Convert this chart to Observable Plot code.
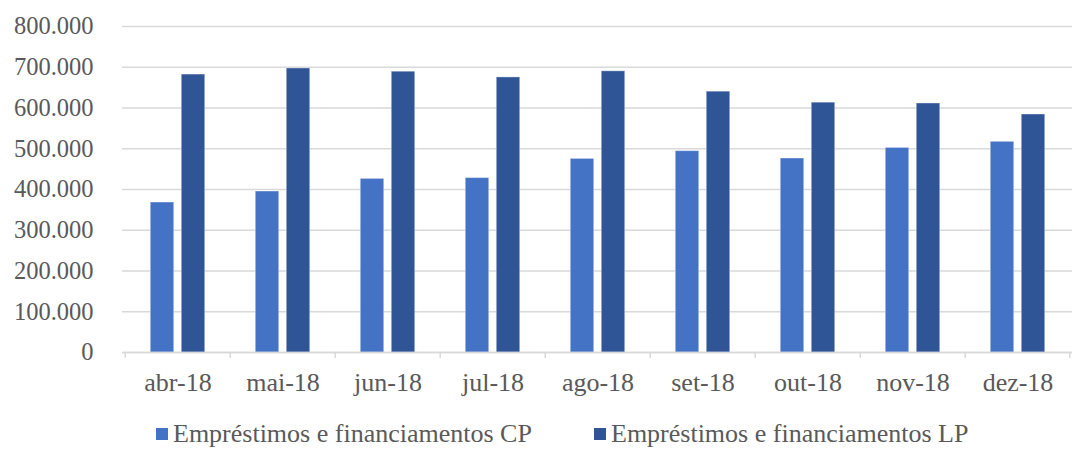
<!DOCTYPE html>
<html>
<head>
<meta charset="utf-8">
<script src="https://cdn.jsdelivr.net/npm/d3@7"></script>
<script src="https://cdn.jsdelivr.net/npm/@observablehq/plot@0.6"></script>
<style>
  html, body { margin: 0; padding: 0; background: #fff; }
  body { width: 1079px; height: 449px; overflow: hidden; font-family: "Liberation Serif", serif; color: #595959; }
  #legend { position: relative; height: 49px; font-size: 26px; }
  .item { position: absolute; top: 21px; display: flex; align-items: center; white-space: nowrap; line-height: 1; }
  .sw { width: 12px; height: 12px; margin-right: 5px; display: inline-block; }
</style>
</head>
<body>
<div id="chart"></div>
<div id="legend"></div>
<script>
const months = ["abr-18","mai-18","jun-18","jul-18","ago-18","set-18","out-18","nov-18","dez-18"];
const seriesNames = ["Empréstimos e financiamentos CP", "Empréstimos e financiamentos LP"];
const cpValues = [368000, 395000, 426000, 428000, 475000, 494000, 476000, 502000, 517000];
const lpValues = [682000, 697000, 689000, 675000, 690000, 640000, 613000, 611000, 584000];
const yTicks = [0, 100000, 200000, 300000, 400000, 500000, 600000, 700000, 800000];
const colors = ["#4472C4", "#2F5597"];

const cpData = months.map((m, i) => ({month: m, value: cpValues[i], series: seriesNames[0]}));
const lpData = months.map((m, i) => ({month: m, value: lpValues[i], series: seriesNames[1]}));

const W = 1079, mL = 122, mR = 7;
const band = (W - mL - mR) / months.length;
const barW = 24, gap = 7;
const inset = (band - barW) / 2;
const off = (barW + gap) / 2;

const fmt = d => d3.format(",")(d).replace(/,/g, ".");

const chart = Plot.plot({
  width: W,
  height: 400,
  marginLeft: mL,
  marginRight: mR,
  marginTop: 26,
  marginBottom: 48,
  style: {fontFamily: "Liberation Serif, serif", fontSize: "24.5px", color: "#595959", background: "#fff"},
  x: {domain: months, padding: 0},
  y: {domain: [0, 800000]},
  color: {domain: seriesNames, range: colors},
  marks: [
    Plot.gridY(yTicks, {stroke: "#d9d9d9", strokeOpacity: 1, strokeWidth: 1.3}),
    Plot.axisY({ticks: yTicks, tickSize: 0, tickPadding: 29, tickFormat: fmt, label: null, fontSize: 24.5}),
    Plot.axisX({tickSize: 0, tickPadding: 20, label: null, fontSize: 26}),
    Plot.barY(cpData, {x: "month", y: "value", fill: "series", insetLeft: inset, insetRight: inset, dx: -off, stroke: "#ffffff", strokeOpacity: 0.35, strokeWidth: 1}),
    Plot.barY(lpData, {x: "month", y: "value", fill: "series", insetLeft: inset, insetRight: inset, dx: off, stroke: "#ffffff", strokeOpacity: 0.35, strokeWidth: 1}),
    Plot.ruleY([0], {stroke: "#d9d9d9", strokeWidth: 1.5}),
    Plot.ruleX(months, {x: d => d, dx: -band / 2, y1: 0, y2: -15000, stroke: "#d9d9d9", strokeWidth: 1.5}),
    Plot.ruleX(months.slice(-1), {x: d => d, dx: band / 2 - 1, y1: 0, y2: -15000, stroke: "#d9d9d9", strokeWidth: 1.5})
  ]
});
document.getElementById("chart").appendChild(chart);

const legend = document.getElementById("legend");
const lefts = [156, 594];
seriesNames.forEach((name, i) => {
  const it = document.createElement("div");
  it.className = "item";
  it.style.left = lefts[i] + "px";
  const sw = document.createElement("span");
  sw.className = "sw";
  sw.style.background = colors[i];
  const t = document.createElement("span");
  t.textContent = name;
  it.appendChild(sw);
  it.appendChild(t);
  legend.appendChild(it);
});
</script>
</body>
</html>
